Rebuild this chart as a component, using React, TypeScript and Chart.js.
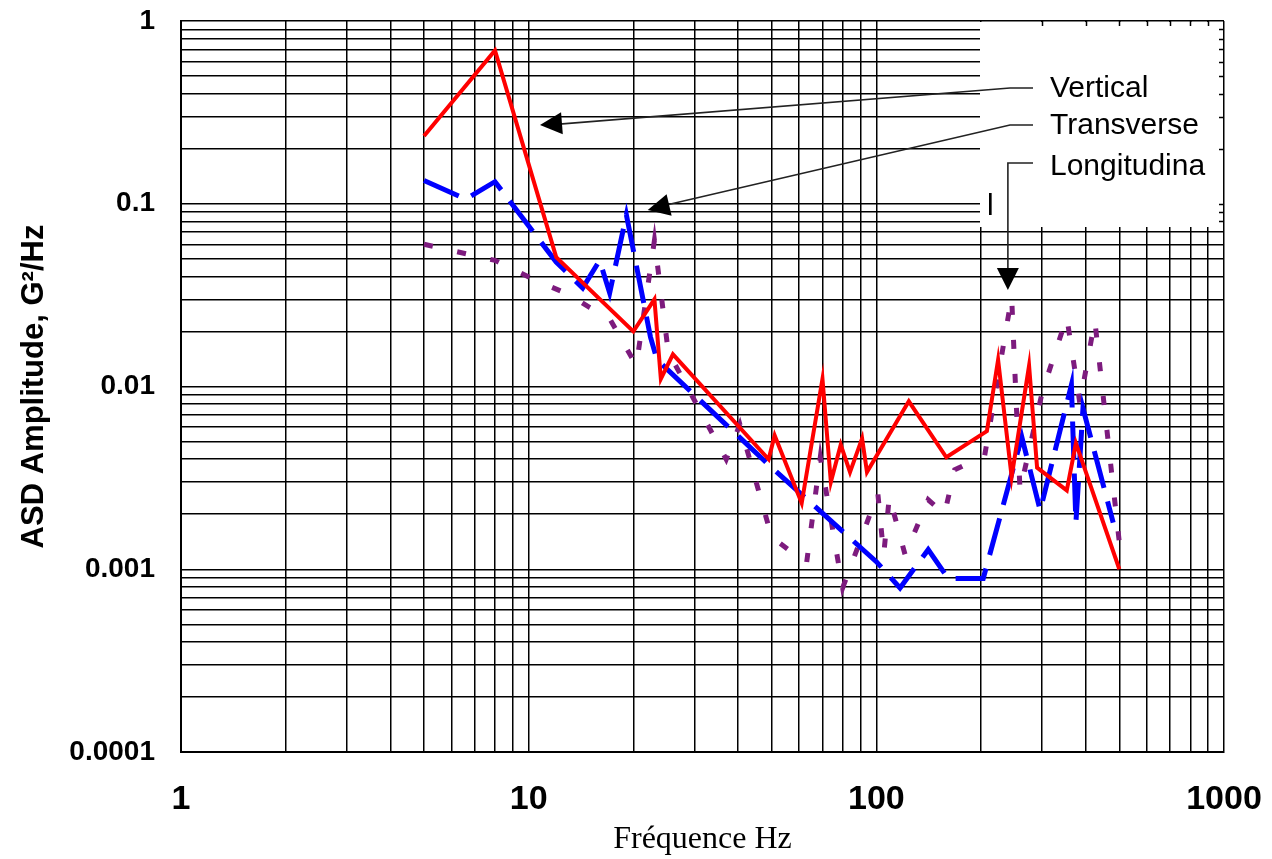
import React, { useEffect, useRef } from "react";
import { Chart, registerables } from "chart.js";

Chart.register(...registerables);

// ---- Data ----
const verticalFreq = [5, 8, 12, 20, 23, 24, 26, 49, 51, 61, 70, 74, 79, 84, 91, 94, 124, 159, 208, 224, 245, 275, 290, 353, 375, 500];
const verticalAsd = [0.235, 0.69, 0.051, 0.02, 0.03, 0.011, 0.015, 0.004, 0.0054, 0.0023, 0.011, 0.003, 0.0048, 0.0034, 0.0052, 0.0034, 0.0083, 0.0041, 0.0057, 0.014, 0.0032, 0.013, 0.0036, 0.0027, 0.0049, 0.001];

const transverseFreq = [5, 6.6, 8, 12, 14.3, 16, 17.1, 19.1, 22.4, 23.4, 50, 100, 117, 141, 161, 203, 262, 296, 364, 375, 393, 480];
const transverseAsd = [0.134, 0.106, 0.132, 0.048, 0.0346, 0.049, 0.0325, 0.087, 0.0187, 0.014, 0.0036, 0.0011, 0.00079, 0.00128, 0.00089, 0.00089, 0.0053, 0.0021, 0.0102, 0.0018, 0.0076, 0.0018];

const longFreq = [5, 8, 10.5, 13, 15, 17, 20.4, 23, 25.2, 37, 40.5, 50, 63, 69, 80, 101, 105, 109, 121, 141, 157, 168, 205, 245, 259, 300, 353, 385, 425, 500];
const longAsd = [0.06, 0.049, 0.038, 0.032, 0.027, 0.024, 0.013, 0.063, 0.0155, 0.004, 0.0062, 0.0015, 0.00108, 0.0041, 0.00079, 0.0026, 0.0012, 0.0025, 0.0012, 0.0024, 0.002, 0.0035, 0.0042, 0.031, 0.0027, 0.0093, 0.024, 0.0081, 0.023, 0.0014];

const seriesNames = ["Vertical", "Transverse", "Longitudina"];
const xTickLabels = ["1", "10", "100", "1000"];
const yTickLabels = ["0.0001", "0.001", "0.01", "0.1", "1"];
const xTitle = "Fréquence Hz";
const yTitle = "ASD Amplitude, G²/Hz";

// arrow tips (data coordinates)
const arrowTipV = { x: 10.78, y: 0.27 };
const arrowTipT = { x: 22.0, y: 0.0924 };
const arrowTipL = { x: 239, y: 0.0337 };

function logGrid(minExp: number, maxExp: number): number[] {
  const out: number[] = [];
  for (let e = minExp; e < maxExp; e++) {
    for (let k = 1; k < 10; k++) out.push(Number((k * Math.pow(10, e)).toPrecision(3)));
  }
  out.push(Number(Math.pow(10, maxExp).toPrecision(3)));
  return out;
}
const xGrid = logGrid(0, 3);
const yGrid = logGrid(-4, 0);

const toPts = (xs: number[], ys: number[]) => xs.map((x, i) => ({ x, y: ys[i] }));

const annotPlugin = {
  id: "annot",
  afterDraw(chart: any) {
    const { ctx, chartArea: a, scales } = chart;
    const xs = scales.x;
    const ys = scales.y;
    ctx.save();
    const boxL = a.right - 244;
    const boxB = a.top + 206;
    ctx.fillStyle = "#fff";
    ctx.fillRect(boxL, a.top + 1, a.right - 1 - boxL, boxB - a.top - 1);
    ctx.strokeStyle = "#000";
    ctx.lineWidth = 1.5;
    ctx.beginPath();
    xGrid.forEach((v) => {
      const px = Math.round(xs.getPixelForValue(v)) + 0.5;
      if (px > boxL + 2 && px < a.right - 2) {
        ctx.moveTo(px, a.top);
        ctx.lineTo(px, a.top + 5);
      }
    });
    yGrid.forEach((v) => {
      const py = Math.round(ys.getPixelForValue(v)) + 0.5;
      if (py > a.top + 2 && py < boxB) {
        ctx.moveTo(a.right - 5, py);
        ctx.lineTo(a.right, py);
      }
    });
    ctx.stroke();

    // texts
    ctx.fillStyle = "#000";
    ctx.font = '30px "Liberation Sans", Arial, sans-serif';
    ctx.textBaseline = "alphabetic";
    ctx.textAlign = "left";
    ctx.fillText(seriesNames[0], a.right - 174, a.top + 76);
    ctx.fillText(seriesNames[1], a.right - 174, a.top + 113);
    ctx.fillText(seriesNames[2], a.right - 174, a.top + 154);
    ctx.fillText("l", a.right - 237, a.top + 194);

    // arrows
    const head = (tx: number, ty: number, fx: number, fy: number) => {
      const ang = Math.atan2(fy - ty, fx - tx);
      const L = 22, W = 11;
      const bx = tx + Math.cos(ang) * L;
      const by = ty + Math.sin(ang) * L;
      ctx.beginPath();
      ctx.moveTo(tx, ty);
      ctx.lineTo(bx - Math.sin(ang) * W, by + Math.cos(ang) * W);
      ctx.lineTo(bx + Math.sin(ang) * W, by - Math.cos(ang) * W);
      ctx.closePath();
      ctx.fill();
    };
    ctx.strokeStyle = "#222";
    ctx.lineWidth = 1.6;
    const stubR = a.right - 191;
    const stubL = a.right - 214;
    // Vertical
    let tx = xs.getPixelForValue(arrowTipV.x), ty = ys.getPixelForValue(arrowTipV.y);
    let sy = a.top + 67;
    ctx.beginPath();
    ctx.moveTo(stubR, sy); ctx.lineTo(stubL, sy); ctx.lineTo(tx + 10, ty);
    ctx.stroke();
    head(tx, ty, stubL, sy);
    // Transverse
    tx = xs.getPixelForValue(arrowTipT.x); ty = ys.getPixelForValue(arrowTipT.y);
    sy = a.top + 104;
    ctx.beginPath();
    ctx.moveTo(stubR, sy); ctx.lineTo(stubL, sy); ctx.lineTo(tx + 10, ty - 3);
    ctx.stroke();
    head(tx, ty, stubL, sy);
    // Longitudinal
    tx = xs.getPixelForValue(arrowTipL.x); ty = ys.getPixelForValue(arrowTipL.y);
    sy = a.top + 142;
    ctx.beginPath();
    ctx.moveTo(stubR, sy); ctx.lineTo(tx, sy); ctx.lineTo(tx, ty - 10);
    ctx.stroke();
    head(tx, ty, tx, sy);
    ctx.restore();
  },
};

export default function App() {
  const ref = useRef<HTMLCanvasElement>(null);
  useEffect(() => {
    if (!ref.current) return;
    const tickFont = { family: '"Liberation Sans", Arial, sans-serif', weight: "bold" as const };
    const chart = new Chart(ref.current, {
      type: "line",
      data: {
        datasets: [
          {
            label: seriesNames[0],
            data: toPts(verticalFreq, verticalAsd),
            borderColor: "#FF0000",
            borderWidth: 4,
            pointRadius: 0,
            tension: 0,
            fill: false,
          },
          {
            label: seriesNames[1],
            data: toPts(transverseFreq, transverseAsd),
            borderColor: "#0000FF",
            borderWidth: 5,
            borderDash: [38, 14],
            pointRadius: 0,
            tension: 0,
            fill: false,
          },
          {
            label: seriesNames[2],
            data: toPts(longFreq, longAsd),
            borderColor: "#7D1B7E",
            borderWidth: 5,
            borderDash: [9, 25],
            pointRadius: 0,
            tension: 0,
            fill: false,
          },
        ],
      },
      options: {
        animation: false,
        responsive: false,
        devicePixelRatio: 1,
        layout: { padding: 0 },
        plugins: { legend: { display: false }, tooltip: { enabled: false } },
        scales: {
          x: {
            type: "logarithmic",
            min: 1,
            max: 1000,
            position: "bottom",
            afterBuildTicks: (s: any) => {
              s.ticks = xGrid.map((v) => ({ value: v }));
            },
            afterFit: (s: any) => {
              s.height = 107;
              s.paddingLeft = 0;
              s.paddingRight = 48;
            },
            grid: { color: "#000", lineWidth: 1.5, drawTicks: false },
            border: { display: true, color: "#000", width: 2 },
            ticks: {
              autoSkip: false,
              maxRotation: 0,
              padding: 27,
              color: "#000",
              font: { ...tickFont, size: 34 },
              callback: (v: any) => xTickLabels.find((l) => Number(l) === Number(v)) ?? "",
            },
            title: {
              display: true,
              text: xTitle,
              color: "#000",
              font: { family: '"Liberation Serif", "Times New Roman", serif', size: 32 },
              padding: { top: 0, bottom: 0 },
            },
          },
          y: {
            type: "logarithmic",
            min: 0.0001,
            max: 1,
            afterBuildTicks: (s: any) => {
              s.ticks = yGrid.map((v) => ({ value: v }));
            },
            afterFit: (s: any) => {
              s.width = 181;
              s.paddingTop = 21;
              s.paddingBottom = 0;
            },
            grid: { color: "#000", lineWidth: 1.5, drawTicks: false },
            border: { display: true, color: "#000", width: 2 },
            ticks: {
              autoSkip: false,
              padding: 26,
              color: "#000",
              font: { ...tickFont, size: 28 },
              callback: (v: any) => yTickLabels.find((l) => Number(l) === Number(v)) ?? "",
            },
            title: {
              display: true,
              text: yTitle,
              color: "#000",
              font: { family: '"Liberation Sans", Arial, sans-serif', size: 31, weight: "bold" },
              padding: { top: 16, bottom: 0 },
            },
          },
        },
      },
      plugins: [annotPlugin],
    });
    return () => chart.destroy();
  }, []);
  return (
    <div style={{ position: "absolute", left: 0, top: 0, width: 1272, height: 859, background: "#fff" }}>
      <canvas ref={ref} width={1272} height={859} style={{ display: "block" }} />
    </div>
  );
}
